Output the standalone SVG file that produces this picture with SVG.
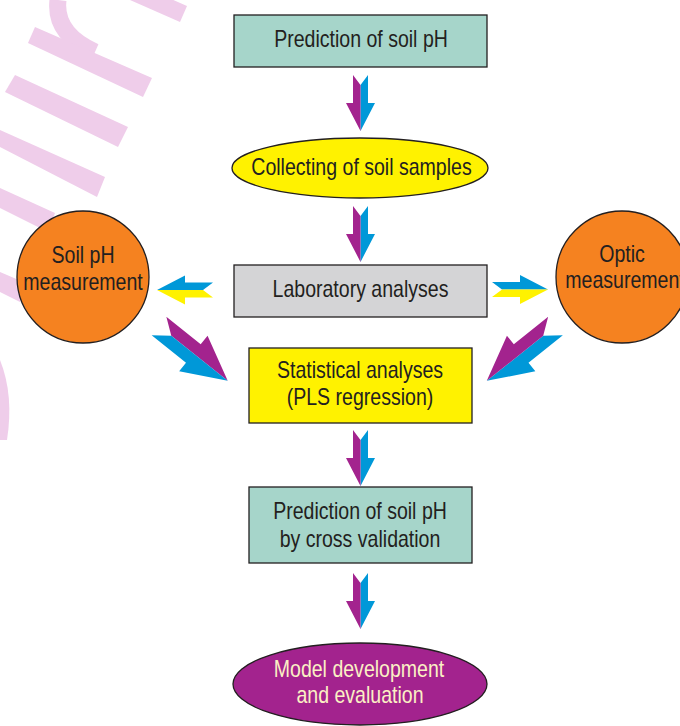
<svg xmlns="http://www.w3.org/2000/svg" xmlns:xlink="http://www.w3.org/1999/xlink" width="680" height="726" viewBox="0 0 680 726">
<style>
.box{stroke:#231f20;stroke-width:1.3}
.t{font-family:"Liberation Sans",Arial,sans-serif;font-size:23px;fill:#231f20;text-anchor:middle}
.wm{fill:#efcdea}
.p{fill:#a3238e}.b{fill:#0098d8}.y{fill:#fff200}
.teal{fill:#a6d5ca}.gray{fill:#d4d4d6}.yel{fill:#fff200}.org{fill:#f58220}.pur{fill:#a3238e}
</style>
<defs>
<polygon id="hA" points="0,-7.5 10,0 56,0 28,-14.5 28,-7.5"/>
<polygon id="hB" points="0,7.5 10,0 56,0 28,14.5 28,7.5"/>
</defs>
<rect width="680" height="726" fill="#ffffff"/>
<g id="watermark">
<polygon class="wm" points="137,-16 187,6 180,22 130,0"/>
<path d="M58,0 Q54,34 95,52" fill="none" stroke="#efcdea" stroke-width="17"/>
<polygon class="wm" points="35,27 152,78 143,97 28,43"/>
<polygon class="wm" points="15,75 128,127 118,147 5,92"/>
<polygon class="wm" points="0,130 105,177 97,197 0,147"/>
<polygon class="wm" points="0,188 55,213 48,232 0,208"/>
<polygon class="wm" points="0,272 28,284 20,302 0,292"/>
<path d="M0,360 Q14,395 7,440 L0,440 Z" class="wm"/>
</g>
<g id="connectors">
<g transform="translate(360.5,75) rotate(90)"><use xlink:href="#hA" class="b"/><use xlink:href="#hB" class="p"/></g>
<g transform="translate(360.5,206) rotate(90)"><use xlink:href="#hA" class="b"/><use xlink:href="#hB" class="p"/></g>
<g transform="translate(360.5,430) rotate(90)"><use xlink:href="#hA" class="b"/><use xlink:href="#hB" class="p"/></g>
<g transform="translate(360.5,573) rotate(90)"><use xlink:href="#hA" class="b"/><use xlink:href="#hB" class="p"/></g>
<g transform="translate(213,290) rotate(180)"><use xlink:href="#hA" class="y"/><use xlink:href="#hB" class="b"/></g>
<g transform="translate(492,289.5)"><use xlink:href="#hA" class="b"/><use xlink:href="#hB" class="y"/></g>
<g transform="translate(159,326) rotate(38.6) scale(1.57)"><use xlink:href="#hA" class="p"/><use xlink:href="#hB" class="b"/></g>
<g transform="translate(555.5,326) rotate(141.4) scale(1.57)"><use xlink:href="#hA" class="b"/><use xlink:href="#hB" class="p"/></g>
</g>
<g id="n1">
<rect class="box teal" x="234" y="15" width="253" height="52"/>
<text class="t" transform="translate(361,47) scale(0.85,1)">Prediction of soil pH</text>
</g>
<g id="n2">
<ellipse class="box yel" cx="360" cy="168" rx="128" ry="30"/>
<text class="t" transform="translate(361.5,175) scale(0.85,1)">Collecting of soil samples</text>
</g>
<g id="n3">
<rect class="box gray" x="234" y="265" width="253" height="52"/>
<text class="t" transform="translate(360.5,297) scale(0.85,1)">Laboratory analyses</text>
</g>
<g id="n4">
<circle class="box org" cx="83" cy="277" r="66"/>
<text class="t" transform="translate(83,263) scale(0.85,1)">Soil pH</text>
<text class="t" transform="translate(83,290) scale(0.85,1)">measurement</text>
</g>
<g id="n5">
<circle class="box org" cx="622" cy="277" r="66"/>
<text class="t" transform="translate(622,262) scale(0.85,1)">Optic</text>
<text class="t" transform="translate(625,288) scale(0.85,1)">measurement</text>
</g>
<g id="n6">
<rect class="box yel" x="249" y="348" width="223" height="75"/>
<text class="t" transform="translate(360,378) scale(0.85,1)">Statistical analyses</text>
<text class="t" transform="translate(360,405) scale(0.85,1)">(PLS regression)</text>
</g>
<g id="n7">
<rect class="box teal" x="249" y="487" width="223" height="76"/>
<text class="t" transform="translate(360,519) scale(0.85,1)">Prediction of soil pH</text>
<text class="t" transform="translate(360,547) scale(0.85,1)">by cross validation</text>
</g>
<g id="n8">
<ellipse class="box pur" cx="360" cy="684" rx="127" ry="41"/>
<text class="t" transform="translate(359,677) scale(0.85,1)" style="fill:#fbf0c4">Model development</text>
<text class="t" transform="translate(360,703) scale(0.85,1)" style="fill:#fbf0c4">and evaluation</text>
</g>
</svg>
